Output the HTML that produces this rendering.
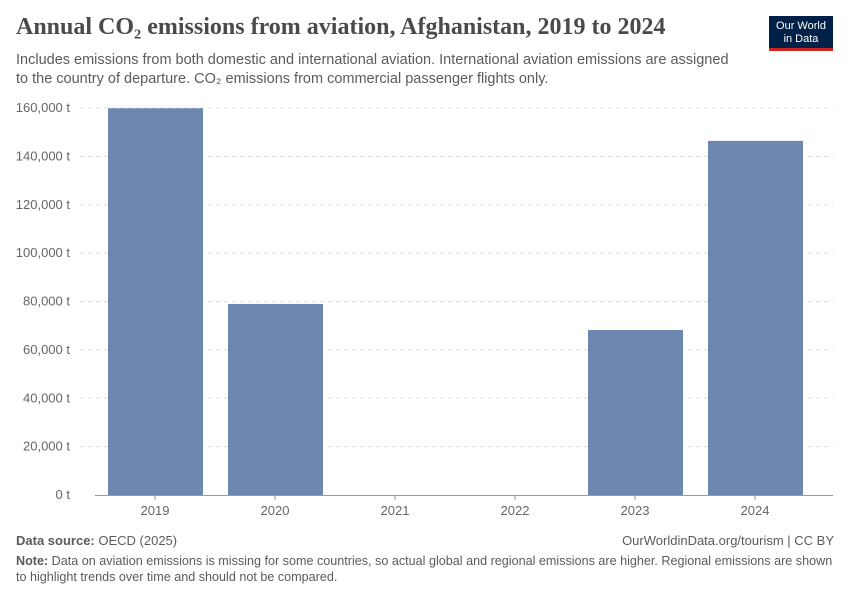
<!DOCTYPE html>
<html><head><meta charset="utf-8"><style>
body{margin:0;width:850px;height:600px;background:#fff;font-family:"Liberation Sans",sans-serif;position:relative;overflow:hidden}
.t{position:absolute}
</style></head><body>
<div class="t" style="left:16px;top:14px;font-family:'Liberation Serif',serif;font-size:24px;color:#4a4a4a;font-weight:bold">Annual CO₂ emissions from aviation, Afghanistan, 2019 to 2024</div>
<div class="t" style="left:16px;top:51px;font-size:14.5px;line-height:19px;color:#5b5b5b;width:725px">Includes emissions from both domestic and international aviation. International aviation emissions are assigned to the country of departure. CO₂ emissions from commercial passenger flights only.</div>
<div class="t" style="left:769px;top:16px;width:64px;height:35px;background:#002147;border-bottom:3px solid #ce261e;box-sizing:border-box;color:#fff;font-size:11px;line-height:13px;text-align:center;padding-top:4px">Our World<br>in Data</div>
<svg class="t" style="left:0;top:0" width="850" height="600">
<g id="grid"></g><g id="bars"></g><g id="xl"></g>
</svg>
<div class="t" style="left:16px;top:533px;font-size:13px;color:#5b5b5b"><b>Data source:</b> OECD (2025)</div>
<div class="t" style="right:16px;top:533px;font-size:13px;color:#5b5b5b">OurWorldinData.org/tourism | CC BY</div>
<div class="t" style="left:16px;top:553px;font-size:12.6px;line-height:16px;color:#5b5b5b;width:825px"><b>Note:</b> Data on aviation emissions is missing for some countries, so actual global and regional emissions are higher. Regional emissions are shown to highlight trends over time and should not be compared.</div>
<script>
const categories=["2019","2020","2021","2022","2023","2024"];
const values=[159900,79000,null,null,68200,146400];
const ticks=[0,20000,40000,60000,80000,100000,120000,140000,160000];
const tickLabels=["0 t","20,000 t","40,000 t","60,000 t","80,000 t","100,000 t","120,000 t","140,000 t","160,000 t"];
const ns="http://www.w3.org/2000/svg";
const y=v=>495-v*(387/160000);
const x=i=>95+i*120;
function mk(t,a,p){const e=document.createElementNS(ns,t);for(const k in a)e.setAttribute(k,a[k]);p.appendChild(e);return e;}
const g=document.getElementById('grid');
ticks.forEach((t,i)=>{
 if(t>0){const l=mk('line',{x1:80,x2:833,y1:y(t),y2:y(t),stroke:'#ddd','stroke-dasharray':'4,4'},g);
 
 }
 const tx=mk('text',{x:70,y:y(t)+4,'text-anchor':'end','font-size':13,fill:'#666','font-family':'Liberation Sans'},g);
 tx.textContent=tickLabels[i];
 
 
});
const b=document.getElementById('bars');
values.forEach((v,i)=>{
 if(v==null)return;
 const r=mk('rect',{x:x(i)+13,y:y(v),width:95,height:495-y(v),fill:'#6d87b0'},b);
 
 
});
const xl=document.getElementById('xl');
const ax=mk('line',{x1:95,x2:833,y1:495.5,y2:495.5,stroke:'#999'},xl);


categories.forEach((c,i)=>{
 const tk=mk('line',{x1:x(i)+60,x2:x(i)+60,y1:495,y2:500,stroke:'#999'},xl);
 
 
 const t=mk('text',{x:x(i)+60,y:515,'text-anchor':'middle','font-size':13,fill:'#666','font-family':'Liberation Sans'},xl);
 t.textContent=c;
 
 
});
</script>
</body></html>
